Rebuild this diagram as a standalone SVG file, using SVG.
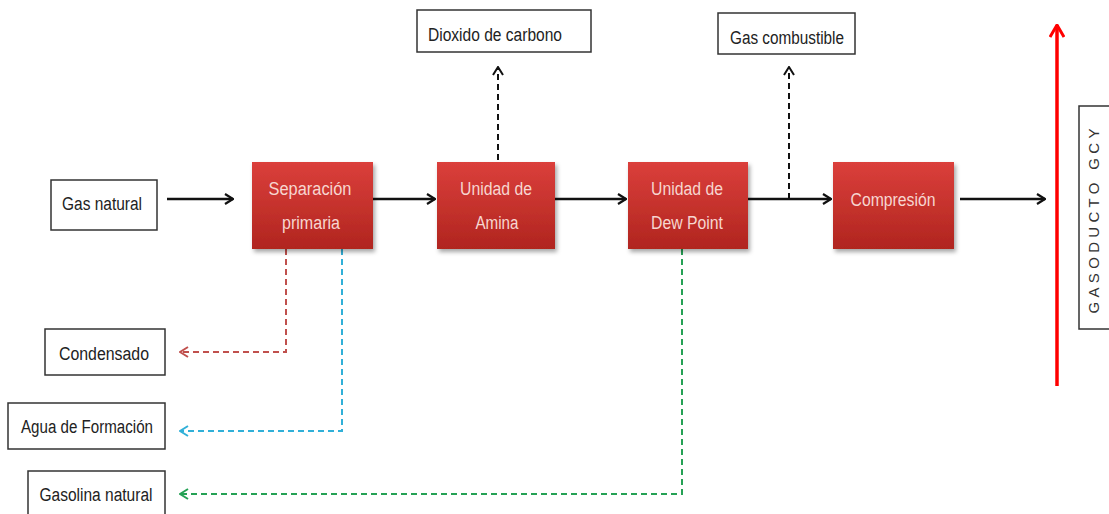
<svg xmlns="http://www.w3.org/2000/svg" width="1109" height="514" viewBox="0 0 1109 514">
<style>
.box{fill:#fff;stroke:#333;stroke-width:1.5}
.lbl{font-family:"Liberation Sans",Arial,sans-serif;font-size:18px;fill:#222;text-anchor:middle}
.proc{fill:url(#rg);filter:url(#sh)}
.ptxt{font-family:"Liberation Sans",Arial,sans-serif;font-size:18px;fill:#f7d6d0;text-anchor:middle}
.solid{stroke:#111;stroke-width:2.5;fill:none;marker-end:url(#ab)}
.dash{stroke-width:2;fill:none;stroke-dasharray:6 4}
</style>
<defs>
<linearGradient id="rg" x1="0" y1="0" x2="0" y2="1">
<stop offset="0" stop-color="#db3f3b"/>
<stop offset="1" stop-color="#b0251f"/>
</linearGradient>
<filter id="sh" x="-10%" y="-10%" width="125%" height="125%">
<feDropShadow dx="2" dy="3" stdDeviation="2" flood-color="#000" flood-opacity="0.35"/>
</filter>
<marker id="ab" viewBox="0 0 10 12" refX="9" refY="6" markerWidth="10" markerHeight="12" markerUnits="userSpaceOnUse" orient="auto">
<path d="M1,1 L9,6 L1,11" fill="none" stroke="#111" stroke-width="2.2"/>
</marker>
<marker id="ak" viewBox="0 0 10 12" refX="9" refY="6" markerWidth="10" markerHeight="12" markerUnits="userSpaceOnUse" orient="auto">
<path d="M1,1 L9,6 L1,11" fill="none" stroke="#111" stroke-width="2"/>
</marker>
<marker id="arr" viewBox="0 0 10 12" refX="9" refY="6" markerWidth="10" markerHeight="12" markerUnits="userSpaceOnUse" orient="auto">
<path d="M1,1 L9,6 L1,11" fill="none" stroke="#c0504d" stroke-width="2"/>
</marker>
<marker id="abl" viewBox="0 0 10 12" refX="9" refY="6" markerWidth="10" markerHeight="12" markerUnits="userSpaceOnUse" orient="auto">
<path d="M1,1 L9,6 L1,11" fill="none" stroke="#31b0d8" stroke-width="2"/>
</marker>
<marker id="agr" viewBox="0 0 10 12" refX="9" refY="6" markerWidth="10" markerHeight="12" markerUnits="userSpaceOnUse" orient="auto">
<path d="M1,1 L9,6 L1,11" fill="none" stroke="#25a155" stroke-width="2"/>
</marker>
<marker id="ared" viewBox="0 0 14 16" refX="13" refY="8" markerWidth="14" markerHeight="16" markerUnits="userSpaceOnUse" orient="auto">
<path d="M1,1 L13,8 L1,15" fill="none" stroke="#ff0000" stroke-width="3"/>
</marker>
</defs>

<g id="connectors">
<line class="solid" x1="167" y1="199" x2="233" y2="199"/>
<line class="solid" x1="373" y1="199" x2="435" y2="199"/>
<line class="solid" x1="555" y1="199" x2="626" y2="199"/>
<line class="solid" x1="748" y1="199" x2="831" y2="199"/>
<line class="solid" x1="960" y1="199" x2="1045" y2="199"/>
<line class="dash" stroke="#111" stroke-dasharray="8 5" x1="498" y1="160" x2="498" y2="67" marker-end="url(#ak)"/>
<line class="dash" stroke="#111" stroke-dasharray="8 5" x1="789" y1="199" x2="789" y2="67" marker-end="url(#ak)"/>
<polyline class="dash" stroke="#c0504d" points="286,249 286,352 180,352" marker-end="url(#arr)"/>
<polyline class="dash" stroke="#31b0d8" points="342,249 342,431 180,431" marker-end="url(#abl)"/>
<polyline class="dash" stroke="#25a155" points="682,249 682,494 180,494" marker-end="url(#agr)"/>
<line stroke="#ff0000" stroke-width="3.5" x1="1057" y1="386" x2="1057" y2="25" marker-end="url(#ared)"/>
</g>

<g id="gas-natural"><rect class="box" x="51" y="180" width="106" height="50"/><text class="lbl" x="102" y="210" textLength="80" lengthAdjust="spacingAndGlyphs">Gas natural</text></g>
<g id="separacion"><rect class="proc" x="252" y="162" width="121" height="87"/><text class="ptxt" x="310" y="195" textLength="83" lengthAdjust="spacingAndGlyphs">Separación</text><text class="ptxt" x="311" y="229" textLength="58" lengthAdjust="spacingAndGlyphs">primaria</text></g>
<g id="amina"><rect class="proc" x="437" y="162" width="118" height="87"/><text class="ptxt" x="496" y="195" textLength="72" lengthAdjust="spacingAndGlyphs">Unidad de</text><text class="ptxt" x="497" y="229" textLength="43" lengthAdjust="spacingAndGlyphs">Amina</text></g>
<g id="dewpoint"><rect class="proc" x="628" y="162" width="120" height="87"/><text class="ptxt" x="687" y="195" textLength="72" lengthAdjust="spacingAndGlyphs">Unidad de</text><text class="ptxt" x="687" y="229" textLength="72" lengthAdjust="spacingAndGlyphs">Dew Point</text></g>
<g id="compresion"><rect class="proc" x="833" y="162" width="121" height="87"/><text class="ptxt" x="893" y="206" textLength="85" lengthAdjust="spacingAndGlyphs">Compresión</text></g>
<g id="dioxido"><rect class="box" x="417" y="10" width="174" height="42"/><text class="lbl" x="495" y="41" textLength="134" lengthAdjust="spacingAndGlyphs">Dioxido de carbono</text></g>
<g id="gas-combustible"><rect class="box" x="718" y="13" width="137" height="41"/><text class="lbl" x="787" y="44" textLength="114" lengthAdjust="spacingAndGlyphs">Gas combustible</text></g>
<g id="condensado"><rect class="box" x="45" y="329" width="120" height="46"/><text class="lbl" x="104" y="360" textLength="90" lengthAdjust="spacingAndGlyphs">Condensado</text></g>
<g id="agua"><rect class="box" x="8" y="403" width="157" height="46"/><text class="lbl" x="87" y="433" textLength="132" lengthAdjust="spacingAndGlyphs">Agua de Formación</text></g>
<g id="gasolina"><rect class="box" x="28" y="471" width="137" height="50"/><text class="lbl" x="96" y="501" textLength="113" lengthAdjust="spacingAndGlyphs">Gasolina natural</text></g>
<g id="gasoducto"><rect class="box" x="1079" y="106" width="40" height="223"/><text font-family="'Liberation Sans',Arial,sans-serif" font-size="15" fill="#333" text-anchor="middle" textLength="185" lengthAdjust="spacing" transform="translate(1099,221) rotate(-90)">GASODUCTO GCY</text></g>
</svg>
